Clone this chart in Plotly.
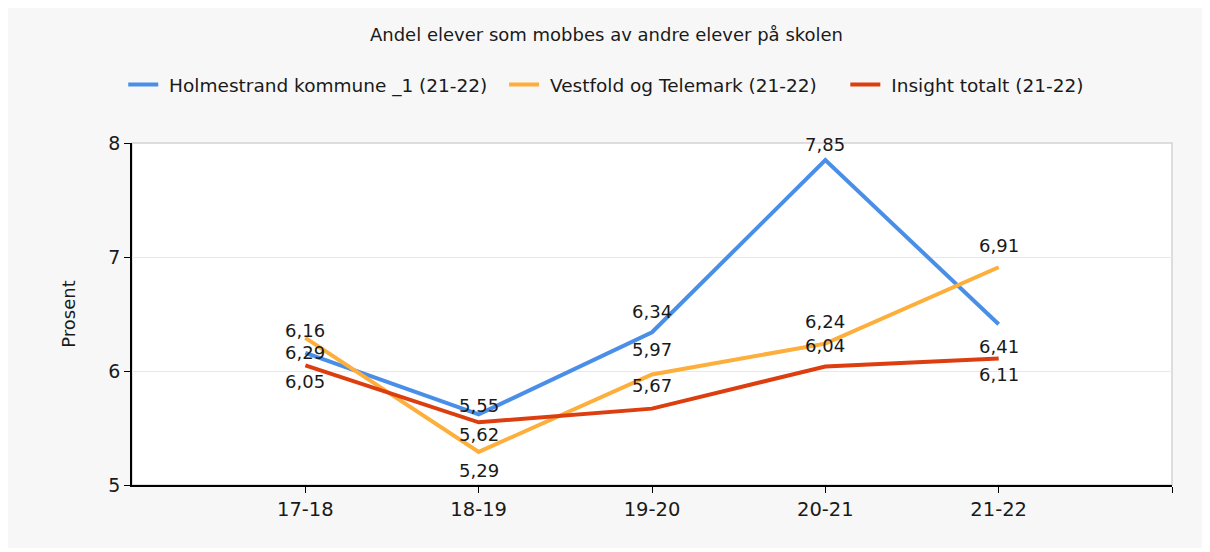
import plotly.graph_objects as go

categories = ["17-18", "18-19", "19-20", "20-21", "21-22"]
series_names = ["Holmestrand kommune _1 (21-22)", "Vestfold og Telemark (21-22)", "Insight totalt (21-22)"]
holmestrand = [6.16, 5.62, 6.34, 7.85, 6.41]
vestfold = [6.29, 5.29, 5.97, 6.24, 6.91]
insight = [6.05, 5.55, 5.67, 6.04, 6.11]
# labels as printed in the reference next to each series' point
holmestrand_labels = ["6,16", "5,62", "6,34", "7,85", "6,41"]
vestfold_labels = ["6,29", "5,29", "5,97", "6,24", "6,91"]
insight_labels = ["6,05", "5,55", "5,67", "6,04", "6,11"]
y_ticks = [5, 6, 7, 8]

colors = ["#4a8fe7", "#fdae3b", "#dc3e0f"]
# label placement (pixel shift above(+)/below(-) the point)
label_shifts = [
    [22, -20, 21, 16, -22],
    [-15, -19, 25, 22, 22],
    [-16, 17, 23, 21, -16],
]
# legend spacing padding (non-breaking spaces after each name)
legend_trailing = [2, 4, 0]

all_values = [holmestrand, vestfold, insight]
all_labels = [holmestrand_labels, vestfold_labels, insight_labels]
x_pos = list(range(len(categories)))

NBSP = "\u00a0"
fig = go.Figure()
for name, vals, col, pad in zip(series_names, all_values, colors, legend_trailing):
    fig.add_trace(go.Scatter(x=x_pos, y=vals, mode="lines",
                             name=NBSP + name + NBSP * pad,
                             line=dict(color=col, width=4)))

font_family = "DejaVu Sans"
annotations = []
for vals, labs, shifts in zip(all_values, all_labels, label_shifts):
    for xi, v, t, s in zip(x_pos, vals, labs, shifts):
        annotations.append(dict(x=xi, y=v, text=t, showarrow=False, yshift=s,
                                font=dict(family=font_family, size=18, color="#1a1a1a")))

W, H = 1197, 540
fig.update_layout(
    width=W, height=H,
    margin=dict(l=124, r=33, t=135, b=63),
    paper_bgcolor="#f7f7f7",
    plot_bgcolor="#ffffff",
    font=dict(family=font_family, color="#1a1a1a"),
    title=dict(text="Andel elever som mobbes av andre elever på skolen",
               x=0.5, xanchor="center", y=1 - 27 / H, yanchor="middle",
               font=dict(size=18, color="#1a1a1a")),
    legend=dict(orientation="h", x=0.456, xanchor="center", y=1.17, yanchor="middle",
                font=dict(size=18.5, color="#1a1a1a"), bgcolor="rgba(0,0,0,0)",
                itemwidth=30),
    showlegend=True,
    annotations=annotations,
    shapes=[dict(type="rect", xref="paper", yref="paper", x0=0, x1=1, y0=0, y1=1,
                 line=dict(color="#d4d4d4", width=1.5), layer="below")],
)
fig.update_xaxes(range=[-1, 5], tickvals=x_pos + [len(categories)],
                 ticktext=categories + [""], showline=True, linecolor="#000000",
                 linewidth=1.5, ticks="outside", ticklen=6, tickcolor="#000000",
                 showgrid=False, tickfont=dict(size=19.5), zeroline=False)
fig.update_yaxes(range=[5, 8], tickvals=y_ticks, showline=True, linecolor="#000000",
                 linewidth=1.5, ticks="outside", ticklen=6, tickcolor="#000000",
                 showgrid=True, gridcolor="#e8e8e8", gridwidth=1, tickfont=dict(size=19),
                 zeroline=False,
                 title=dict(text="Prosent", font=dict(size=18), standoff=28))

fig.write_html("out.html")
